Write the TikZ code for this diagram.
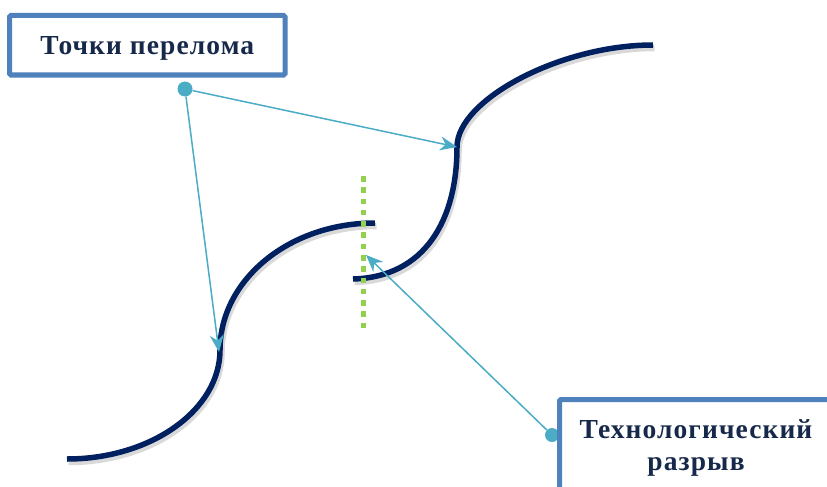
\documentclass[tikz,border=0pt]{standalone}
\usepackage{fontspec}
\newfontfamily\labelfont[LetterSpace=4]{Liberation Serif}
\usetikzlibrary{arrows.meta}

\definecolor{navy}{HTML}{002060}
\definecolor{boxblue}{HTML}{4F81BD}
\definecolor{pinteal}{HTML}{4BACC6}
\definecolor{gapgreen}{HTML}{92D050}
\definecolor{textnavy}{HTML}{17294A}

\begin{document}
\begin{tikzpicture}[x=1pt,y=-1pt,>={Stealth[length=17pt,width=14pt,inset=5.5pt]},
                    every text node part/.style={align=center}]
  \tikzstyle{label box}=[draw=boxblue,line width=5pt,rounded corners=1.5pt,inner sep=0pt,
                         text=textnavy,font=\labelfont\bfseries\fontsize{27.5}{32}\selectfont]
  \tikzstyle{pin dot}=[circle,fill=pinteal,inner sep=0pt,minimum size=15pt]
  \tikzstyle{pointer}=[->,draw=pinteal,line width=1.5pt]
  \tikzstyle{curve}=[draw=navy,line width=5.5pt,
                     preaction={draw=black,opacity=0.15,line width=6.5pt,transform canvas={shift={(1.5,3)}}}]
  \tikzstyle{gap line}=[draw=gapgreen,line width=5.5pt,dash pattern=on 5.5pt off 5.786pt]

  \fill[white] (0,0) rectangle (827,487);
  \useasboundingbox (0,0) rectangle (827,487);

  % the two road pieces
  \draw[curve] (67,459) .. controls (151,459) and (220,410) .. (220,350)
               .. controls (220,280) and (289,223) .. (375,223);
  \draw[curve] (353,279) .. controls (425,277) and (457,220) .. (457,147)
               .. controls (457,100) and (560,45) .. (653,45);

  % the gap
  \draw[gap line] (363.5,176) -- (363.5,334);

  \coordinate (upper bend) at (457,147);
  \coordinate (lower bend) at (219,352);
  \coordinate (gap mark)   at (366,255);

  \node[pin dot] (breaks dot) at (185,89) {};
  \node[pin dot,minimum size=14pt] (gap dot) at (552,435) {};

  \draw[pointer] (breaks dot) -- (upper bend);
  \draw[pointer] (breaks dot) -- (lower bend);
  \draw[pointer] (gap dot) -- (gap mark);

  \node[label box,minimum width=275.5pt,minimum height=59.5pt,
        text height=19.5pt,text depth=0pt] (breaks) at (147.25,45.25) {Точки перелома};
  \node[label box,minimum width=273pt,minimum height=120.5pt,
        text height=50pt,text depth=29.5pt] (gap) at (696,459.75) {Технологический\\разрыв};
\end{tikzpicture}
\end{document}
